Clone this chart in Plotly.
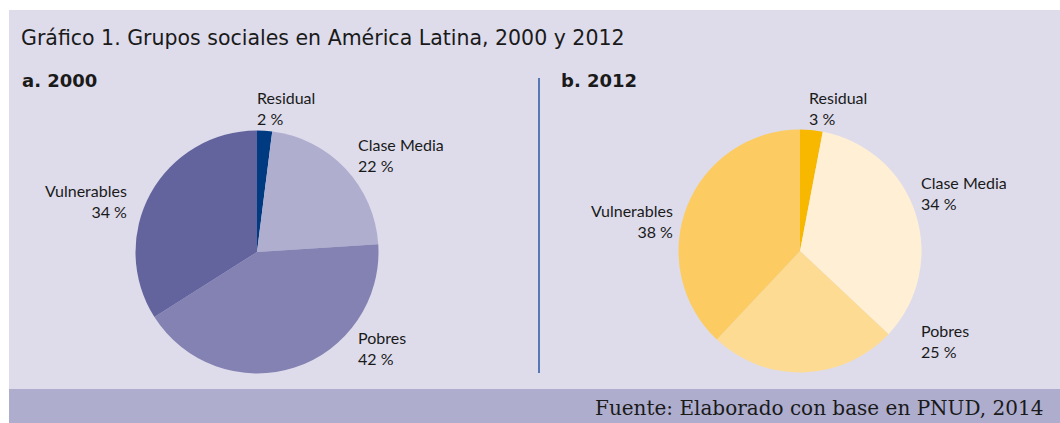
import plotly.graph_objects as go

W, H = 1060, 423

# ---- data ----
categories = ["Residual", "Clase Media", "Pobres", "Vulnerables"]
values_2000 = [2, 22, 42, 34]
values_2012 = [3, 34, 25, 38]
colors_2000 = ["#003A80", "#AFAECF", "#8482B2", "#63649E"]
colors_2012 = ["#F9B800", "#FFF0D5", "#FDDB93", "#FCCC62"]
title_text = "Gráfico 1. Grupos sociales en América Latina, 2000 y 2012"
subtitles = ["a. 2000", "b. 2012"]
source_text = "Fuente: Elaborado con base en PNUD, 2014"


def px(x):
    return x / W


def py(y):
    return 1 - y / H


fig = go.Figure()


def add_pie(vals, cols, cx, cy, r, name):
    fig.add_trace(go.Pie(
        labels=categories, values=vals, sort=False, direction="clockwise",
        rotation=0, textinfo="none", hoverinfo="label+percent", name=name,
        marker=dict(colors=cols, line=dict(width=0)),
        domain=dict(x=[px(cx - r), px(cx + r)], y=[py(cy + r), py(cy - r)]),
        showlegend=False,
    ))


add_pie(values_2000, colors_2000, 257, 252, 121.5, "2000")
add_pie(values_2012, colors_2012, 800, 251, 121.5, "2012")

shapes = [
    dict(type="rect", xref="paper", yref="paper", x0=px(9), x1=px(1060), y0=py(389), y1=py(10),
         fillcolor="#DEDCEB", line=dict(width=0), layer="below"),
    dict(type="rect", xref="paper", yref="paper", x0=px(9), x1=px(1060), y0=py(423), y1=py(389),
         fillcolor="#AEADCE", line=dict(width=0), layer="below"),
    dict(type="line", xref="paper", yref="paper", x0=px(539), x1=px(539), y0=py(373), y1=py(78),
         line=dict(color="#2A57A5", width=1.5)),
]

label_font = dict(family="Lato, 'Open Sans', sans-serif", size=16, color="#1A1A1A")
annotations = [
    dict(text=title_text, x=px(19), y=py(38), xanchor="left", yanchor="middle",
         font=dict(family="'DejaVu Sans', sans-serif", size=20.5, color="#1A1A1A"), showarrow=False),
    dict(text="<b>" + subtitles[0] + "</b>", x=px(20), y=py(80), xanchor="left", yanchor="middle",
         font=dict(family="'DejaVu Sans', sans-serif", size=18, color="#1A1A1A"), showarrow=False),
    dict(text="<b>" + subtitles[1] + "</b>", x=px(559), y=py(80), xanchor="left", yanchor="middle",
         font=dict(family="'DejaVu Sans', sans-serif", size=18, color="#1A1A1A"), showarrow=False),
    dict(text=source_text, x=px(1045), y=py(408), xanchor="right", yanchor="middle",
         font=dict(family="'DejaVu Serif', serif", size=20, color="#1A1A1A"), showarrow=False),
]

# label positions (pixel): (x, y_center, anchor)
pos_2000 = [(255, 108, "left"), (356, 155, "left"), (356, 348, "left"), (129, 201, "right")]
pos_2012 = [(807, 108, "left"), (919, 193, "left"), (919, 341, "left"), (675, 221, "right")]

for vals, pos in ((values_2000, pos_2000), (values_2012, pos_2012)):
    for cat, v, (x, y, anc) in zip(categories, vals, pos):
        annotations.append(dict(
            text=f"{cat}<br>{v} %", x=px(x), y=py(y), xanchor=anc, yanchor="middle",
            align=anc, font=label_font, showarrow=False,
        ))

fig.update_layout(
    width=W, height=H, margin=dict(l=0, r=0, t=0, b=0),
    paper_bgcolor="white", plot_bgcolor="white",
    shapes=shapes, annotations=annotations,
)

fig.write_html("out.html", config=dict(displayModeBar=False))

# remove the browser's default body margin so the figure sits at the page origin
with open("out.html", encoding="utf-8") as f:
    html = f.read()
html = html.replace("<body>", '<body style="margin:0;padding:0;overflow:hidden">', 1)
with open("out.html", "w", encoding="utf-8") as f:
    f.write(html)
